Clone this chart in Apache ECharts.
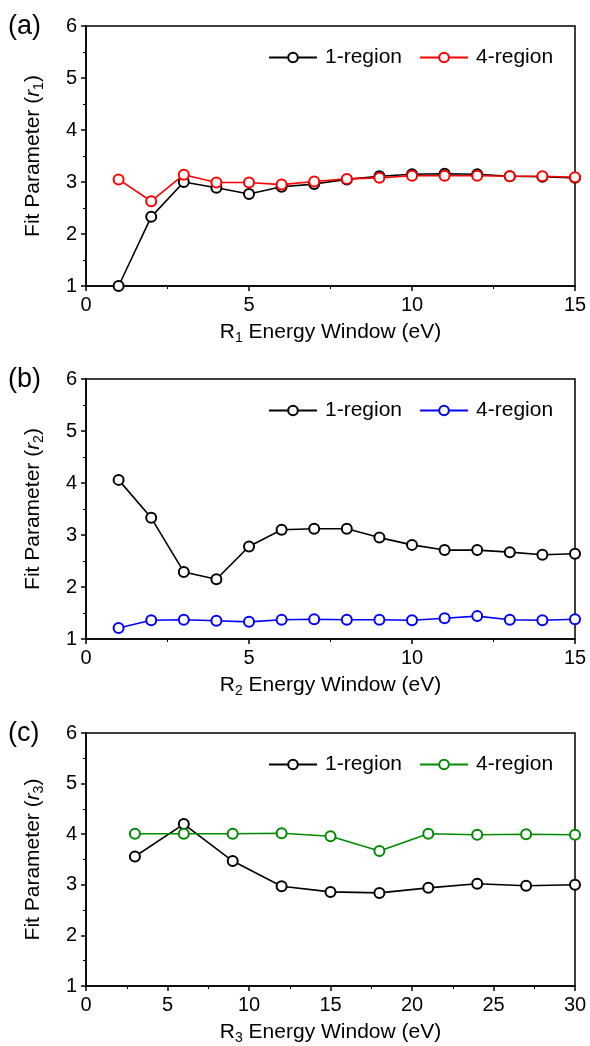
<!DOCTYPE html>
<html>
<head>
<meta charset="utf-8">
<script src="https://cdn.jsdelivr.net/npm/echarts@6/dist/echarts.min.js"></script>
<style>
  html, body { margin: 0; padding: 0; background: #fff; }
  #main { width: 590px; height: 1046px; }
</style>
</head>
<body>
<div id="main"></div>
<script>
// panel (a) and (b): window 1..15 eV
const xR1 = [1, 2, 3, 4, 5, 6, 7, 8, 9, 10, 11, 12, 13, 14, 15];
const r1OneRegion = [1.0, 2.33, 3.0, 2.89, 2.77, 2.91, 2.96, 3.05, 3.11, 3.15, 3.16, 3.15, 3.11, 3.10, 3.08];
const r1FourRegion = [3.05, 2.63, 3.14, 2.99, 2.99, 2.95, 3.01, 3.06, 3.08, 3.12, 3.12, 3.12, 3.11, 3.11, 3.09];

const xR2 = [1, 2, 3, 4, 5, 6, 7, 8, 9, 10, 11, 12, 13, 14, 15];
const r2OneRegion = [4.06, 3.33, 2.29, 2.15, 2.78, 3.10, 3.12, 3.12, 2.95, 2.81, 2.71, 2.71, 2.67, 2.62, 2.64];
const r2FourRegion = [1.21, 1.36, 1.37, 1.35, 1.33, 1.37, 1.38, 1.37, 1.37, 1.36, 1.40, 1.44, 1.37, 1.36, 1.38];

// panel (c): window 3..30 eV
const xR3 = [3, 6, 9, 12, 15, 18, 21, 24, 27, 30];
const r3OneRegion = [3.56, 4.20, 3.47, 2.97, 2.86, 2.84, 2.94, 3.02, 2.98, 3.00];
const r3FourRegion = [4.01, 4.01, 4.01, 4.02, 3.96, 3.67, 4.01, 3.99, 4.00, 3.99];

const panelLabels = ['(a)', '(b)', '(c)'];
const yTicks = { min: 1, max: 6, interval: 1 };
const xMax = [15, 15, 30];

const FONT = 'Arial, "Liberation Sans", sans-serif';
const gridTops = [26, 379, 733];
const gridHeights = [260, 260, 258];
const fourColors = ['#ff0000', '#0000ff', '#008a00'];
const legendLabels = {};

const panels = [
  { x: xR1, one: r1OneRegion, four: r1FourRegion, sub: '1' },
  { x: xR2, one: r2OneRegion, four: r2FourRegion, sub: '2' },
  { x: xR3, one: r3OneRegion, four: r3FourRegion, sub: '3' }
];

const rich = {
  n: { fontSize: 21, fontFamily: FONT, color: '#000', lineHeight: 26 },
  it: { fontSize: 21, fontFamily: FONT, fontStyle: 'italic', color: '#000', lineHeight: 26 },
  s: { fontSize: 14, fontFamily: FONT, color: '#000', lineHeight: 19, verticalAlign: 'bottom' }
};

let grid = [], xAxis = [], yAxis = [], series = [], legend = [], graphic = [];

panels.forEach((p, i) => {
  grid.push({
    left: 86, right: 15, top: gridTops[i], height: gridHeights[i],
    show: true, borderColor: '#000', borderWidth: 1.5, backgroundColor: 'transparent'
  });
  xAxis.push({
    gridIndex: i, type: 'value', min: 0, max: xMax[i], interval: 5,
    axisLine: { onZero: false, lineStyle: { color: '#000', width: 1.5 } },
    axisTick: { length: 5, lineStyle: { color: '#000', width: 1.5 } },
    minorTick: { show: true, splitNumber: 2, length: 3, lineStyle: { color: '#000', width: 1 } },
    splitLine: { show: false },
    axisLabel: { fontSize: 20, fontFamily: FONT, color: '#000', margin: 9 },
    name: '{n|R}{s|' + p.sub + '}{n| Energy Window (eV)}',
    nameLocation: 'middle', nameGap: 33,
    nameTextStyle: { rich: rich }
  });
  yAxis.push({
    gridIndex: i, type: 'value', min: yTicks.min, max: yTicks.max, interval: yTicks.interval,
    axisLine: { show: true, onZero: false, lineStyle: { color: '#000', width: 1.5 } },
    axisTick: { show: true, length: 5, lineStyle: { color: '#000', width: 1.5 } },
    minorTick: { show: true, splitNumber: 2, length: 3, lineStyle: { color: '#000', width: 1 } },
    splitLine: { show: false },
    axisLabel: { fontSize: 20, fontFamily: FONT, color: '#000', margin: 9 },
    name: '{n|Fit Parameter (}{it|r}{s|' + p.sub + '}{n|)}',
    nameLocation: 'middle', nameGap: 40,
    nameTextStyle: { rich: rich }
  });

  const oneName = 'one' + i, fourName = 'four' + i;
  legendLabels[oneName] = '1-region';
  legendLabels[fourName] = '4-region';

  const mk = (name, vals, color) => ({
    name: name, type: 'line', xAxisIndex: i, yAxisIndex: i,
    data: p.x.map((x, k) => [x, vals[k]]),
    color: color,
    symbol: 'emptyCircle', symbolSize: 10,
    lineStyle: { color: color, width: 1.6 },
    itemStyle: { color: color, borderColor: color, borderWidth: 2.4 },
    clip: false, z: name.startsWith('four') ? 3 : 2
  });
  series.push(mk(oneName, p.one, '#000'));
  series.push(mk(fourName, p.four, fourColors[i]));

  legend.push({
    data: [oneName, fourName],
    left: 263, top: gridTops[i] + 16,
    itemWidth: 48, itemHeight: 12, itemGap: 17,
    formatter: (n) => legendLabels[n],
    textStyle: { fontSize: 21, fontFamily: FONT, color: '#000', padding: [0, 0, 0, 3] },
    selectedMode: false
  });

  graphic.push({
    type: 'text', left: 8, top: gridTops[i] - 13,
    style: { text: panelLabels[i], fontSize: 27, fontFamily: FONT, fill: '#000' }
  });
});

const chart = echarts.init(document.getElementById('main'), null, { renderer: 'canvas' });
chart.setOption({
  animation: false,
  backgroundColor: '#fff',
  grid: grid, xAxis: xAxis, yAxis: yAxis,
  legend: legend, series: series, graphic: graphic
});
</script>
</body>
</html>
